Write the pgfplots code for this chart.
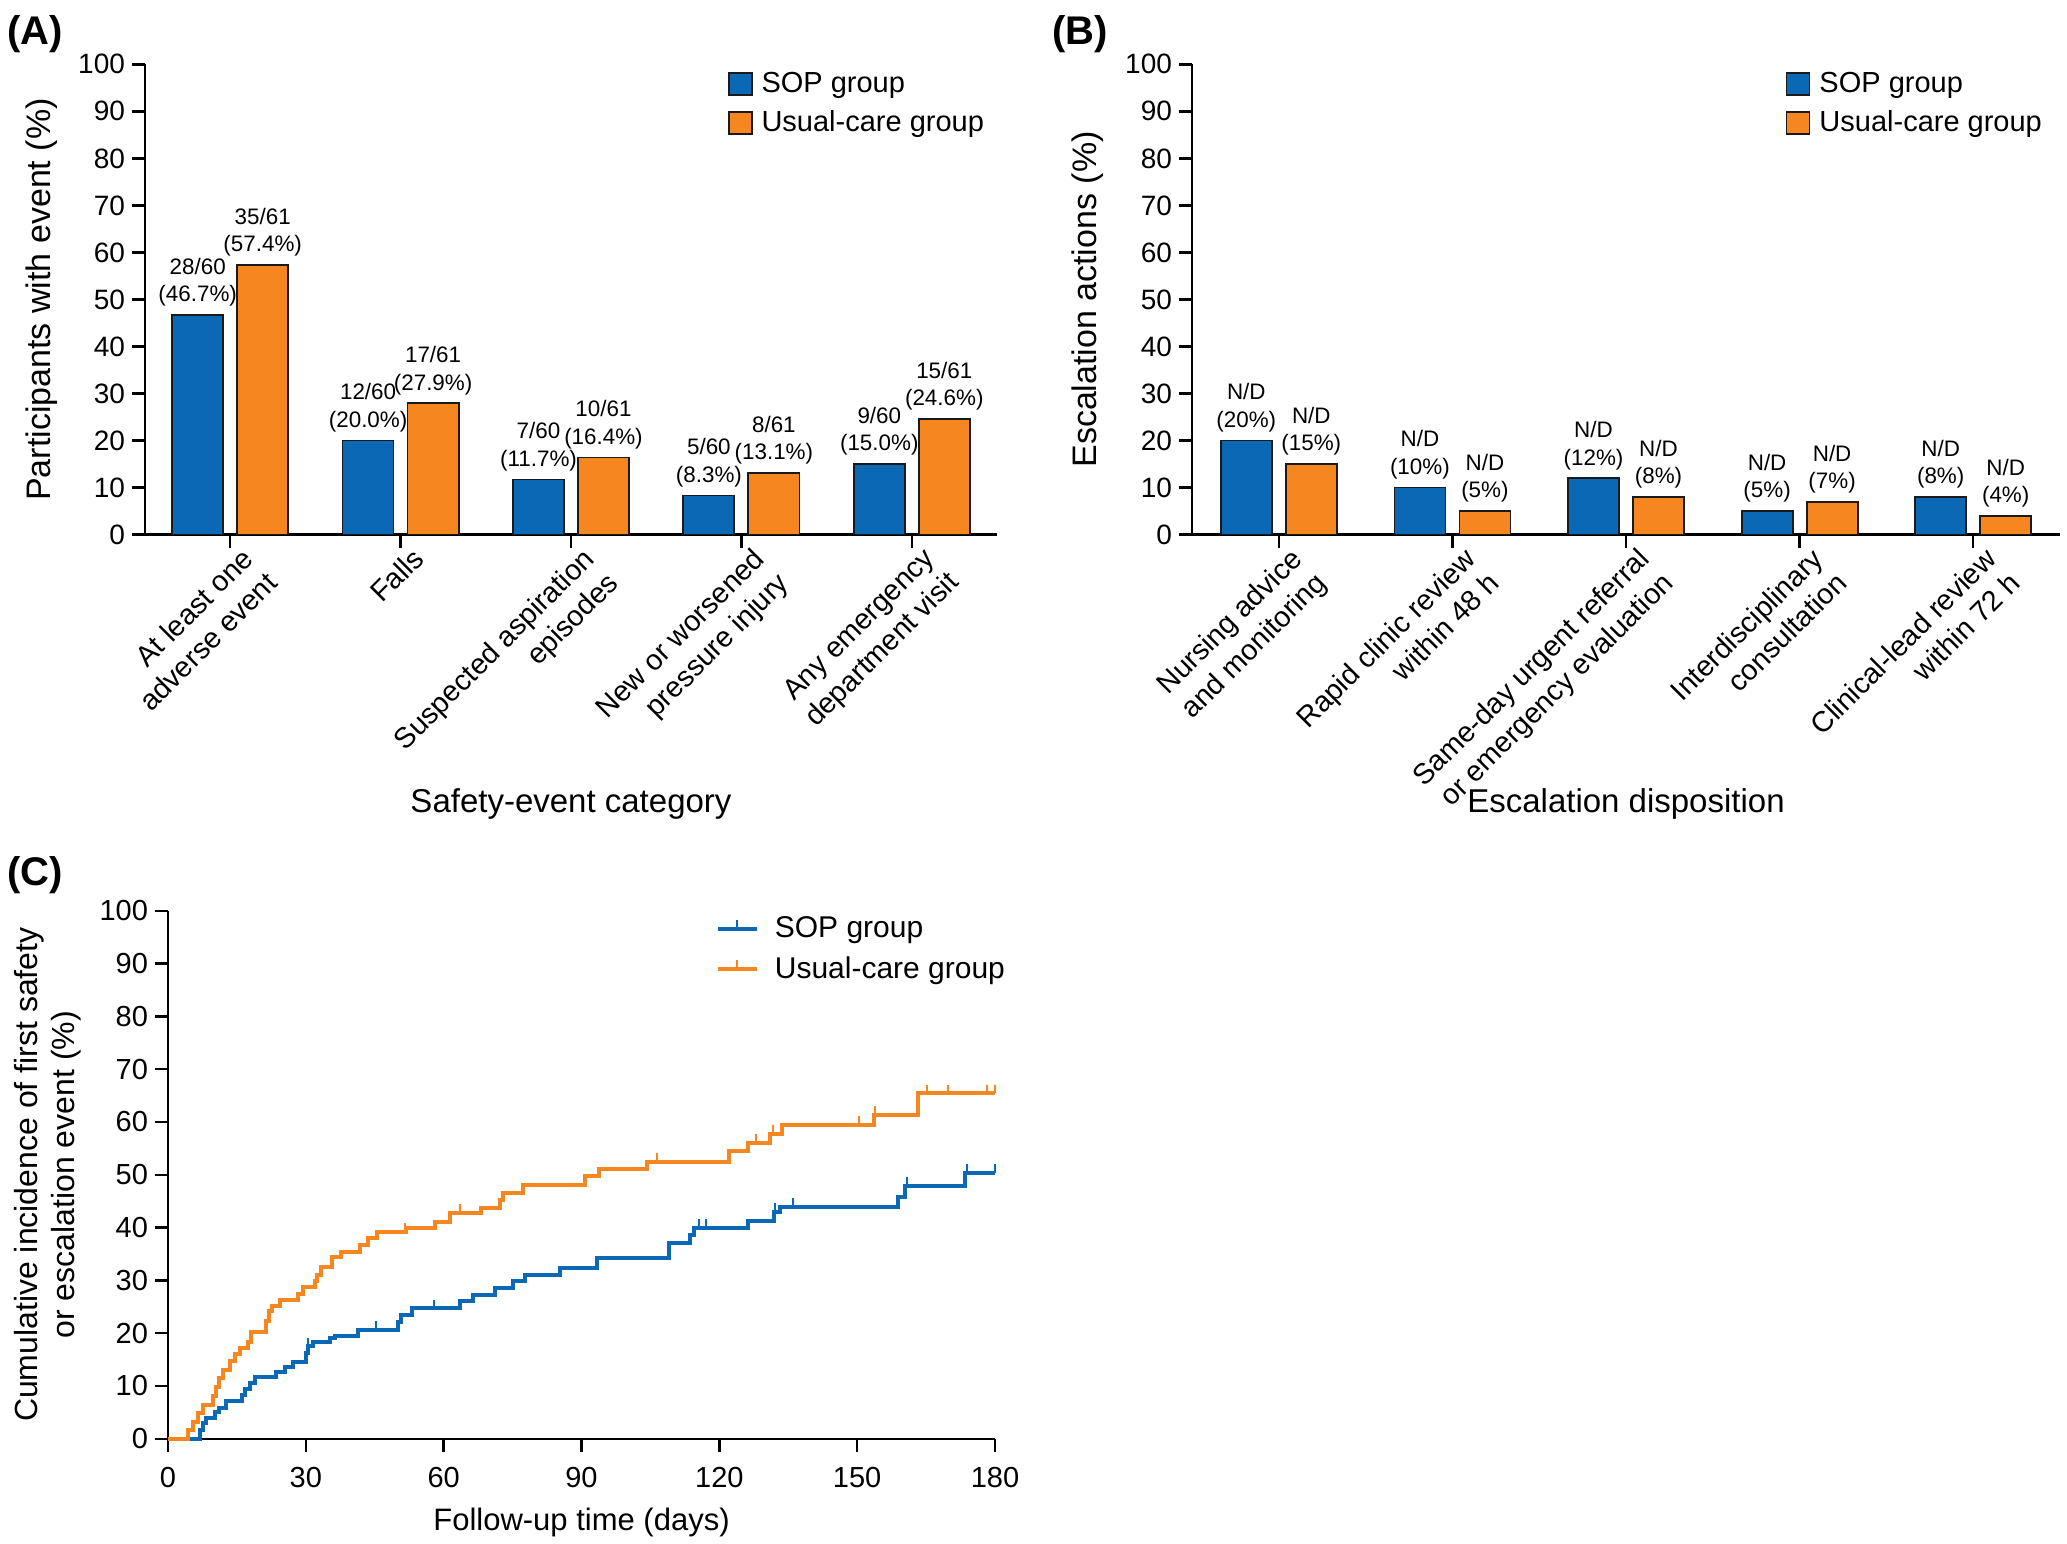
\documentclass[border=0pt]{standalone}
\usepackage{fontspec}
\setmainfont{Liberation Sans}
\usepackage{pgfplots}
\pgfplotsset{compat=1.18}
\definecolor{sopblue}{HTML}{0A68B4}
\definecolor{ucorange}{HTML}{F6861F}
\definecolor{edge}{HTML}{1A1A1A}
\pgfdeclareplotmark{censor}{\pgfpathmoveto{\pgfqpoint{0pt}{0pt}}\pgfpathlineto{\pgfqpoint{0pt}{\pgfplotmarksize}}\pgfusepathqstroke}

\newcommand{\tickfont}{\fontsize{14}{16.8}\selectfont}
\newcommand{\ctickfont}{\fontsize{14.5}{17}\selectfont}
\newcommand{\barlabfont}{\fontsize{11.2}{13.75}\selectfont}

\pgfplotsset{
  common/.style={
    scale only axis, anchor=south west,
    axis lines=left,
    axis line style={line width=1.2pt, black, -},
    tick align=outside,
    major tick length=6.5pt,
    tick style={line width=1.2pt, black},
    ymin=0, ymax=100, ytick={0,10,...,100},
    /pgf/number format/assume math mode=true,
    yticklabel={\tickfont\pgfmathprintnumber{\tick}},
    yticklabel style={font=\tickfont},
    label style={font=\fontsize{16.5}{19.5}\selectfont},
    ylabel style={at={(axis description cs:-0.102,0.5)}, anchor=south, inner sep=0pt, font=\fontsize{17}{20}\selectfont},
  },
  barax/.style={
    common, height=235.15pt,
    xmin=-0.5, xmax=4.5, xtick={0,1,2,3,4},
    xticklabel style={font=\fontsize{14.4}{17}\selectfont, align=right, inner sep=0pt, xshift=5pt, yshift=1pt, rotate=45, anchor=north east},
    xlabel style={at={(axis description cs:0.5,-0.59)}, anchor=base, inner sep=0pt, font=\fontsize{16.5}{19.5}\selectfont},
    legend cell align=left,
    legend style={draw=none, fill=none, inner sep=0pt, font=\fontsize{14.5}{17}\selectfont, nodes={inner sep=1.5pt}, row sep=4.6pt, column sep=3pt},
  },
  sopbar/.style={ybar, bar width=25.5pt, bar shift=-16.25pt, fill=sopblue, draw=edge, line width=0.9pt,
    nodes near coords={\barlabfont\begin{tabular}{@{}c@{}}\pgfplotspointmeta\end{tabular}},
    point meta=explicit symbolic,
    nodes near coords style={font=\barlabfont, anchor=south, inner sep=0pt, xshift=-16.25pt, yshift=2pt, text=black},
    legend image code/.code={\draw[fill=sopblue, draw=edge, line width=0.9pt] (0pt,-5.6pt) rectangle (11.5pt,5.6pt);}},
  ucbar/.style={ybar, bar width=25.5pt, bar shift=16.25pt, fill=ucorange, draw=edge, line width=0.9pt,
    nodes near coords={\barlabfont\begin{tabular}{@{}c@{}}\pgfplotspointmeta\end{tabular}},
    point meta=explicit symbolic,
    nodes near coords style={font=\barlabfont, anchor=south, inner sep=0pt, xshift=16.25pt, yshift=2pt, text=black},
    legend image code/.code={\draw[fill=ucorange, draw=edge, line width=0.9pt] (0pt,-5.6pt) rectangle (11.5pt,5.6pt);}},
}

\begin{document}
\begin{tikzpicture}
\useasboundingbox (0pt,0pt) rectangle (1033.5pt,-771.5pt);

% ---------------- Panel A ----------------
\begin{axis}[barax,
  at={(72.5pt,-267.3pt)}, width=426pt,
  xticklabels={{At least one\\adverse event}, Falls, {Suspected aspiration\\episodes}, {New or worsened\\pressure injury}, {Any emergency\\department visit}},
  ylabel={Participants with event (\%)},
  xlabel={Safety-event category},
  legend style={at={(rel axis cs:0.6835,0.99)}, anchor=north west},
]
\addplot[sopbar] coordinates {
  (0,46.7) [{28/60\\(46.7\%)}]
  (1,20.0) [{12/60\\(20.0\%)}]
  (2,11.7) [{7/60\\(11.7\%)}]
  (3,8.3)  [{5/60\\(8.3\%)}]
  (4,15.0) [{9/60\\(15.0\%)}]
};
\addlegendentry{SOP group}
\addplot[ucbar] coordinates {
  (0,57.4) [{35/61\\(57.4\%)}]
  (1,27.9) [{17/61\\(27.9\%)}]
  (2,16.4) [{10/61\\(16.4\%)}]
  (3,13.1) [{8/61\\(13.1\%)}]
  (4,24.6) [{15/61\\(24.6\%)}]
};
\addlegendentry{Usual-care group}
\end{axis}

% ---------------- Panel B ----------------
\begin{axis}[barax,
  at={(596pt,-267.3pt)}, width=434pt,
  xticklabels={{Nursing advice\\and monitoring}, {Rapid clinic review\\within 48 h}, {Same-day urgent referral\\or emergency evaluation}, {Interdisciplinary\\consultation}, {Clinical-lead review\\within 72 h}},
  ylabel={Escalation actions (\%)},
  xlabel={Escalation disposition},
  legend style={at={(rel axis cs:0.6835,0.99)}, anchor=north west},
]
\addplot[sopbar] coordinates {
  (0,20) [{N/D\\(20\%)}]
  (1,10) [{N/D\\(10\%)}]
  (2,12) [{N/D\\(12\%)}]
  (3,5)  [{N/D\\(5\%)}]
  (4,8)  [{N/D\\(8\%)}]
};
\addlegendentry{SOP group}
\addplot[ucbar] coordinates {
  (0,15) [{N/D\\(15\%)}]
  (1,5)  [{N/D\\(5\%)}]
  (2,8)  [{N/D\\(8\%)}]
  (3,7)  [{N/D\\(7\%)}]
  (4,4)  [{N/D\\(4\%)}]
};
\addlegendentry{Usual-care group}
\end{axis}

% ---------------- Panel C ----------------
\begin{axis}[common,
  at={(84pt,-719.35pt)}, width=413.5pt, height=264pt,
  xmin=0, xmax=180, xtick={0,30,...,180},
  clip=false,
  yticklabel={\ctickfont\pgfmathprintnumber{\tick}},
  xticklabel={\ctickfont\pgfmathprintnumber{\tick}},
  yticklabel style={font=\ctickfont},
  xticklabel style={font=\ctickfont, yshift=-4pt},
  ylabel={Cumulative incidence of first safety\\or escalation event (\%)},
  ylabel style={align=center, font=\fontsize{16}{18.5}\selectfont, at={(axis description cs:-0.104,0.5)}},
  xlabel={Follow-up time (days)},
  xlabel style={at={(axis description cs:0.5,-0.173)}, anchor=base, inner sep=0pt, font=\fontsize{15.5}{18}\selectfont},
  legend cell align=left,
  legend style={at={(rel axis cs:0.662,0.995)}, anchor=north west, draw=none, fill=none, inner sep=0pt, font=\fontsize{15}{18}\selectfont, nodes={inner sep=1.5pt}, row sep=4.8pt, column sep=6.5pt},
]
\addplot[const plot, color=sopblue, line width=2pt,
  legend image code/.code={\draw[sopblue, line width=2pt] (0pt,0pt) -- (19.5pt,0pt); \draw[sopblue, line width=1pt] (9.75pt,0pt) -- (9.75pt,4.2pt);}]
coordinates {
(0,0) (6.9,1.7) (7.6,3.0) (8.3,4.0) (10.2,5.0) (11.2,5.9) (12.7,7.2) (16.0,8.3) (16.7,9.4) (17.8,10.5) (18.9,11.6) (23.6,12.6) (25.4,13.6) (27.2,14.6) (30.0,16.2) (30.5,17.5) (31.6,18.4) (35.2,19.1) (36.3,19.5) (41.4,20.6) (50.1,22.2) (50.8,23.5) (53.0,24.7) (63.5,26.0) (66.4,27.3) (71.1,28.5) (75.1,29.8) (77.6,31.0) (85.3,32.3) (93.3,34.2) (109.1,37.0) (113.6,38.6) (114.4,40.0) (126.3,41.3) (131.8,43.0) (133.2,43.9) (158.8,45.8) (160.4,47.9) (173.5,50.3) (180,50.3)
};
\addlegendentry{SOP group}
\addplot[const plot, color=ucorange, line width=2pt,
  legend image code/.code={\draw[ucorange, line width=2pt] (0pt,0pt) -- (19.5pt,0pt); \draw[ucorange, line width=1pt] (9.75pt,0pt) -- (9.75pt,4.2pt);}]
coordinates {
(0,0) (4.4,1.6) (5.4,3.2) (6.5,4.9) (7.6,6.4) (9.8,8.0) (10.5,9.8) (11.0,11.5) (12.0,13.1) (13.4,14.8) (14.5,16.0) (15.6,17.1) (17.4,18.4) (18.1,20.3) (21.4,22.3) (22.0,24.2) (22.6,25.2) (24.3,26.2) (28.3,27.5) (29.4,28.7) (31.9,29.8) (32.4,31.0) (33.4,32.6) (35.6,34.4) (37.7,35.4) (41.7,36.7) (43.5,38.0) (45.4,39.1) (51.9,39.9) (58.1,41.1) (61.3,42.7) (68.1,43.7) (72.2,45.2) (72.9,46.6) (77.3,48.1) (90.7,49.7) (93.7,51.0) (104.2,52.5) (122.1,54.4) (126.2,56.1) (131.1,57.7) (133.7,59.5) (153.6,61.3) (163.3,65.4) (180,65.4)
};
\addlegendentry{Usual-care group}
\addplot[only marks, mark=censor, mark size=4.4pt, color=sopblue, line width=1pt, forget plot] coordinates {
(30.5,17.5) (45.2,20.6) (57.8,24.7) (115.5,40.0) (117.1,40.0) (132.1,43.0) (136.1,43.9) (160.8,47.9) (173.9,50.3) (180,50.3)
};
\addplot[only marks, mark=censor, mark size=4.4pt, color=ucorange, line width=1pt, forget plot] coordinates {
(51.5,39.1) (63.5,42.7) (77.1,46.6) (106.5,52.5) (127.9,56.1) (131.7,57.7) (150.3,59.5) (153.9,61.3) (165.1,65.4) (169.7,65.4) (178.3,65.4) (180,65.4)
};
\end{axis}

% panel letters
\node[anchor=base west, inner sep=0pt, font=\bfseries\fontsize{20}{24}\selectfont] at (3.5pt,-22pt) {(A)};
\node[anchor=base west, inner sep=0pt, font=\bfseries\fontsize{20}{24}\selectfont] at (526pt,-22pt) {(B)};
\node[anchor=base west, inner sep=0pt, font=\bfseries\fontsize{20}{24}\selectfont] at (3.5pt,-442.5pt) {(C)};
\end{tikzpicture}
\end{document}
